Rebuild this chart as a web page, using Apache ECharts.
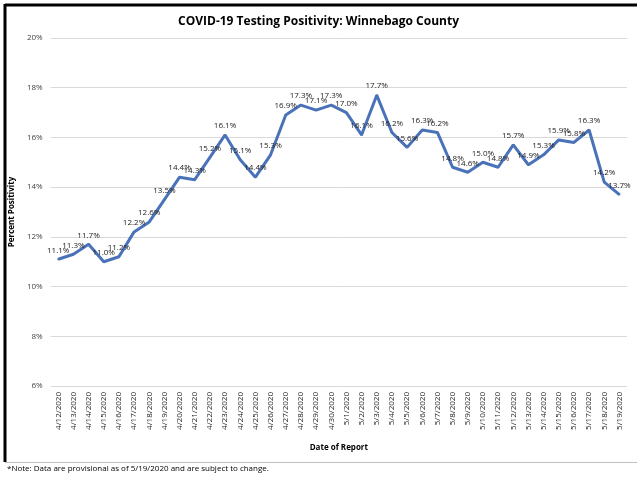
<!DOCTYPE html>
<html><head><meta charset="utf-8">
<script src="https://cdn.jsdelivr.net/npm/echarts@6/dist/echarts.min.js"></script>
<style>html,body{margin:0;padding:0;background:#fff}#c{width:637px;height:478px}</style>
</head><body><div id="c"></div>
<script>
const categories = ['4/12/2020','4/13/2020','4/14/2020','4/15/2020','4/16/2020','4/17/2020','4/18/2020','4/19/2020','4/20/2020','4/21/2020','4/22/2020','4/23/2020','4/24/2020','4/25/2020','4/26/2020','4/27/2020','4/28/2020','4/29/2020','4/30/2020','5/1/2020','5/2/2020','5/3/2020','5/4/2020','5/5/2020','5/6/2020','5/7/2020','5/8/2020','5/9/2020','5/10/2020','5/11/2020','5/12/2020','5/13/2020','5/14/2020','5/15/2020','5/16/2020','5/17/2020','5/18/2020','5/19/2020'];
const positivity = [11.1,11.3,11.7,11.0,11.2,12.2,12.6,13.5,14.4,14.3,15.2,16.1,15.1,14.4,15.3,16.9,17.3,17.1,17.3,17.0,16.1,17.7,16.2,15.6,16.3,16.2,14.8,14.6,15.0,14.8,15.7,14.9,15.3,15.9,15.8,16.3,14.2,13.7];
const titleText = 'COVID-19 Testing Positivity: Winnebago County';
const footnote = '*Note: Data are provisional as of 5/19/2020 and are subject to change.';
const font = 'Open Sans';
const chart = echarts.init(document.getElementById('c'));
chart.setOption({
  animation:false,
  textStyle:{fontFamily:font},
  title:{text:titleText,left:'center',top:11,textStyle:{fontSize:12,fontWeight:'bold',color:'#000',fontFamily:font}},
  grid:{left:50,right:10,top:38,bottom:92},
  xAxis:{type:'category',data:categories,boundaryGap:true,
    name:'Date of Report',nameLocation:'middle',nameGap:58,
    nameTextStyle:{fontSize:8,fontWeight:'bold',color:'#000',fontFamily:font},
    axisLine:{show:false},axisTick:{show:false},
    axisLabel:{rotate:90,interval:0,fontSize:8,color:'#222',margin:6,fontFamily:font}},
  yAxis:{type:'value',min:6,max:20,interval:2,
    name:'Percent Positivity',nameLocation:'middle',nameGap:32,
    nameTextStyle:{fontSize:8,fontWeight:'bold',color:'#000',fontFamily:font},
    axisLine:{show:false},axisTick:{show:false},
    axisLabel:{formatter:'{value}%',fontSize:8,color:'#444',margin:8,fontFamily:font},
    splitLine:{lineStyle:{color:'#d9d9d9',width:1}}},
  series:[{type:'line',data:positivity,symbol:'circle',symbolSize:2,showSymbol:true,
    itemStyle:{color:'#4a72b8'},
    lineStyle:{color:'#4a72b8',width:3},
    labelLayout:{hideOverlap:false},
    label:{show:true,position:'top',distance:4,fontSize:8,color:'#222',fontFamily:font,
      formatter:function(p){return Number(p.value).toFixed(1)+'%';}}}],
  graphic:[
    {type:'line',shape:{x1:5,y1:5,x2:637,y2:5},style:{stroke:'#000',lineWidth:3},silent:true},
    {type:'line',shape:{x1:5,y1:4,x2:5,y2:462},style:{stroke:'#000',lineWidth:3},silent:true},
    {type:'line',shape:{x1:5,y1:462.5,x2:637,y2:462.5},style:{stroke:'#bfbfbf',lineWidth:1}},
    {type:'text',left:7,top:465,style:{text:footnote,fontSize:8,fill:'#000',fontFamily:font}}
  ]
});
</script></body></html>
